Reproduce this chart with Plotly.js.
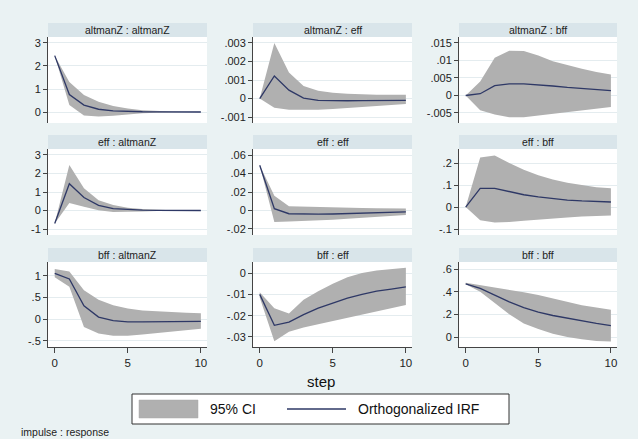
<!DOCTYPE html>
<html>
<head>
<meta charset="utf-8">
<script src="https://cdn.plot.ly/plotly-3.0.1.min.js"></script>
<style>html,body{margin:0;padding:0;background:#eaf2f3;}#chart{width:638px;height:439px;}</style>
</head>
<body>
<div id="chart"></div>
<script>
// ---- data ----
var steps = [0,1,2,3,4,5,6,7,8,9,10];
var panelTitles = ["altmanZ : altmanZ","altmanZ : eff","altmanZ : bff",
                   "eff : altmanZ","eff : eff","eff : bff",
                   "bff : altmanZ","bff : eff","bff : bff"];

var irf_altmanZ_altmanZ = [2.45,0.76,0.3,0.12,0.05,0.02,0.01,0.005,0.002,0.001,0];
var lo_altmanZ_altmanZ  = [2.45,0.3,-0.15,-0.2,-0.16,-0.1,-0.05,-0.03,-0.015,-0.008,-0.005];
var hi_altmanZ_altmanZ  = [2.45,1.3,0.74,0.45,0.26,0.15,0.08,0.045,0.025,0.012,0.008];

var irf_altmanZ_eff = [0,0.00122,0.00045,0.00002,-0.0001,-0.00012,-0.00012,-0.00011,-0.0001,-0.0001,-0.0001];
var lo_altmanZ_eff  = [0,-0.0005,-0.0006,-0.00062,-0.0006,-0.00057,-0.00052,-0.00046,-0.0004,-0.00035,-0.0003];
var hi_altmanZ_eff  = [0,0.003,0.0014,0.00068,0.00042,0.00031,0.00026,0.00022,0.0002,0.0002,0.0002];

var irf_altmanZ_bff = [0,0.0005,0.0028,0.0033,0.0033,0.0031,0.0027,0.0023,0.002,0.0017,0.0014];
var lo_altmanZ_bff  = [0,-0.0042,-0.0054,-0.0062,-0.0062,-0.0057,-0.0051,-0.0046,-0.0042,-0.0038,-0.0033];
var hi_altmanZ_bff  = [0,0.004,0.0108,0.0128,0.0127,0.0114,0.0098,0.0086,0.0076,0.0067,0.006];

var irf_eff_altmanZ = [-0.7,1.45,0.7,0.28,0.1,0.04,0.02,0.01,0.005,0.002,0.001];
var lo_eff_altmanZ  = [-0.7,0.4,0.2,0.02,-0.08,-0.08,-0.05,-0.03,-0.02,-0.01,-0.01];
var hi_eff_altmanZ  = [-0.7,2.45,1.2,0.55,0.3,0.15,0.08,0.04,0.02,0.01,0.01];

var irf_eff_eff = [0.049,0.002,-0.0035,-0.004,-0.004,-0.0038,-0.0035,-0.003,-0.0025,-0.002,-0.0015];
var lo_eff_eff  = [0.049,-0.0125,-0.012,-0.0115,-0.011,-0.01,-0.009,-0.008,-0.007,-0.006,-0.005];
var hi_eff_eff  = [0.049,0.016,0.0045,0.004,0.0035,0.003,0.0028,0.0026,0.0025,0.0023,0.0022];

var irf_eff_bff = [0,0.085,0.085,0.07,0.056,0.046,0.038,0.032,0.028,0.025,0.023];
var lo_eff_bff  = [0,-0.06,-0.07,-0.068,-0.062,-0.056,-0.052,-0.047,-0.043,-0.04,-0.038];
var hi_eff_bff  = [0,0.225,0.235,0.2,0.17,0.145,0.125,0.11,0.1,0.09,0.085];

var irf_bff_altmanZ = [1.06,0.93,0.31,0.05,-0.03,-0.06,-0.06,-0.06,-0.05,-0.05,-0.05];
var lo_bff_altmanZ  = [0.97,0.75,-0.18,-0.33,-0.38,-0.38,-0.35,-0.32,-0.28,-0.25,-0.22];
var hi_bff_altmanZ  = [1.16,1.1,0.67,0.45,0.32,0.25,0.2,0.18,0.16,0.15,0.14];

var irf_bff_eff = [-0.01,-0.0245,-0.023,-0.0195,-0.0165,-0.014,-0.0118,-0.01,-0.0085,-0.0075,-0.0065];
var lo_bff_eff  = [-0.0115,-0.032,-0.0275,-0.0255,-0.024,-0.0225,-0.021,-0.0195,-0.018,-0.0165,-0.015];
var hi_bff_eff  = [-0.009,-0.0165,-0.019,-0.0125,-0.0085,-0.005,-0.002,0,0.0012,0.002,0.0025];

var irf_bff_bff = [0.47,0.43,0.37,0.31,0.26,0.22,0.19,0.165,0.14,0.12,0.1];
var lo_bff_bff  = [0.465,0.4,0.3,0.2,0.12,0.07,0.03,0,-0.02,-0.035,-0.04];
var hi_bff_bff  = [0.48,0.46,0.44,0.42,0.395,0.37,0.34,0.31,0.28,0.26,0.24];

var irfSeries = [irf_altmanZ_altmanZ,irf_altmanZ_eff,irf_altmanZ_bff,irf_eff_altmanZ,irf_eff_eff,irf_eff_bff,irf_bff_altmanZ,irf_bff_eff,irf_bff_bff];
var loSeries  = [lo_altmanZ_altmanZ,lo_altmanZ_eff,lo_altmanZ_bff,lo_eff_altmanZ,lo_eff_eff,lo_eff_bff,lo_bff_altmanZ,lo_bff_eff,lo_bff_bff];
var hiSeries  = [hi_altmanZ_altmanZ,hi_altmanZ_eff,hi_altmanZ_bff,hi_eff_altmanZ,hi_eff_eff,hi_eff_bff,hi_bff_altmanZ,hi_bff_eff,hi_bff_bff];

var yTickVals = [[0,1,2,3],[-0.001,0,0.001,0.002,0.003],[-0.005,0,0.005,0.01,0.015],
                 [-1,0,1,2,3],[-0.02,0,0.02,0.04,0.06],[-0.1,0,0.1,0.2],
                 [-0.5,0,0.5,1],[-0.03,-0.02,-0.01,0],[0,0.2,0.4,0.6]];
var yTickText = [["0","1","2","3"],["-.001","0",".001",".002",".003"],["-.005","0",".005",".01",".015"],
                 ["-1","0","1","2","3"],["-.02","0",".02",".04",".06"],["-.1","0",".1",".2"],
                 ["-.5","0",".5","1"],["-.03","-.02","-.01","0"],["0",".2",".4",".6"]];
var xTickVals = [0,5,10];
var xTickText = ["0","5","10"];
var legendLabels = ["95% CI","Orthogonalized IRF"];
var xAxisTitle = "step";
var noteText = "impulse : response";

// ---- layout geometry (pixels) ----
var W = 638, H = 439;
var colX = [[48,207],[253,412],[459,617]];
var rowY = [[37,123],[149,235],[262,347]];
var stripH = 14;
var yRanges = [[-0.478,3.26],[-0.00132,0.00332],[-0.00786,0.0167],
               [-1.32,3.32],[-0.0265,0.0665],[-0.127,0.264],
               [-0.64,1.32],[-0.0347,0.0052],[-0.088,0.662]];
var xRange = [-0.46,10.42];

var FONT = "Liberation Sans, Arial, Helvetica, sans-serif";
var bandColor = "#b0b0b0";
var lineColor = "#2e3866";
var stripColor = "#d9e5ea";
var gridColor = "#e4ecef";

function px(x){return x/W;}
function py(y){return 1 - y/H;}

var traces = [];
var layout = {
  width: W, height: H,
  margin: {l:0,r:0,t:0,b:0},
  paper_bgcolor: "#eaf2f3",
  plot_bgcolor: "#ffffff",
  showlegend: false,
  font: {family: FONT, color: "#222"},
  shapes: [], annotations: []
};

for (var i = 0; i < 9; i++) {
  var r = Math.floor(i/3), c = i % 3;
  var n = i + 1;
  var xa = "x" + (n === 1 ? "" : n), ya = "y" + (n === 1 ? "" : n);
  traces.push({x: steps, y: loSeries[i], xaxis: xa, yaxis: ya, mode: "lines",
               line: {width: 0, color: bandColor}, hoverinfo: "skip"});
  traces.push({x: steps, y: hiSeries[i], xaxis: xa, yaxis: ya, mode: "lines",
               fill: "tonexty", fillcolor: bandColor, line: {width: 0, color: bandColor}, hoverinfo: "skip"});
  traces.push({x: steps, y: irfSeries[i], xaxis: xa, yaxis: ya, mode: "lines",
               line: {width: 1.3, color: lineColor}});
  var bottom = (r === 2);
  layout["xaxis" + (n === 1 ? "" : n)] = {
    domain: [px(colX[c][0]), px(colX[c][1])],
    anchor: ya, range: xRange, showgrid: false, zeroline: false,
    showline: bottom, linecolor: "#444", linewidth: 1,
    ticks: bottom ? "outside" : "", ticklen: 5, tickcolor: "#444",
    showticklabels: bottom, tickvals: xTickVals, ticktext: xTickText,
    tickfont: {size: 11.5, family: FONT, color: "#222"}, fixedrange: true
  };
  layout["yaxis" + (n === 1 ? "" : n)] = {
    domain: [py(rowY[r][1]), py(rowY[r][0])],
    anchor: xa, range: yRanges[i], showgrid: true, gridcolor: gridColor, gridwidth: 1,
    zeroline: false, showline: true, linecolor: "#444", linewidth: 1,
    ticks: "outside", ticklen: 4, tickcolor: "#444",
    tickvals: yTickVals[i], ticktext: yTickText[i],
    tickfont: {size: 11, family: FONT, color: "#222"}, fixedrange: true
  };
  // strip header
  layout.shapes.push({type: "rect", xref: "paper", yref: "paper",
    x0: px(colX[c][0]), x1: px(colX[c][1]), y0: py(rowY[r][0]), y1: py(rowY[r][0] - stripH),
    fillcolor: stripColor, line: {width: 0}, layer: "below"});
  layout.annotations.push({xref: "paper", yref: "paper",
    x: px((colX[c][0] + colX[c][1]) / 2), y: py(rowY[r][0] - stripH/2),
    text: panelTitles[i], showarrow: false, xanchor: "center", yanchor: "middle",
    font: {size: 10.5, family: FONT, color: "#222"}});
}

// axis title
layout.annotations.push({xref: "paper", yref: "paper", x: px(321), y: py(381),
  text: xAxisTitle, showarrow: false, xanchor: "center", yanchor: "middle",
  font: {size: 15, family: FONT, color: "#111"}});

// legend box
layout.shapes.push({type: "rect", xref: "paper", yref: "paper",
  x0: px(132), x1: px(509), y0: py(394), y1: py(424),
  fillcolor: "#ffffff", line: {width: 1, color: "#333"}});
layout.shapes.push({type: "rect", xref: "paper", yref: "paper",
  x0: px(139), x1: px(198), y0: py(400), y1: py(418),
  fillcolor: bandColor, line: {width: 0.5, color: "#a8a8a8"}});
layout.shapes.push({type: "line", xref: "paper", yref: "paper",
  x0: px(287), x1: px(346), y0: py(409), y1: py(409),
  line: {width: 1.3, color: lineColor}});
layout.annotations.push({xref: "paper", yref: "paper", x: px(208), y: py(409),
  text: legendLabels[0], showarrow: false, xanchor: "left", yanchor: "middle",
  font: {size: 14, family: FONT, color: "#111"}});
layout.annotations.push({xref: "paper", yref: "paper", x: px(356), y: py(409),
  text: legendLabels[1], showarrow: false, xanchor: "left", yanchor: "middle",
  font: {size: 14, family: FONT, color: "#111"}});

// note
layout.annotations.push({xref: "paper", yref: "paper", x: px(19), y: py(432),
  text: noteText, showarrow: false, xanchor: "left", yanchor: "middle",
  font: {size: 10.5, family: FONT, color: "#222"}});

Plotly.newPlot("chart", traces, layout, {staticPlot: true, displayModeBar: false});
</script>
</body>
</html>
